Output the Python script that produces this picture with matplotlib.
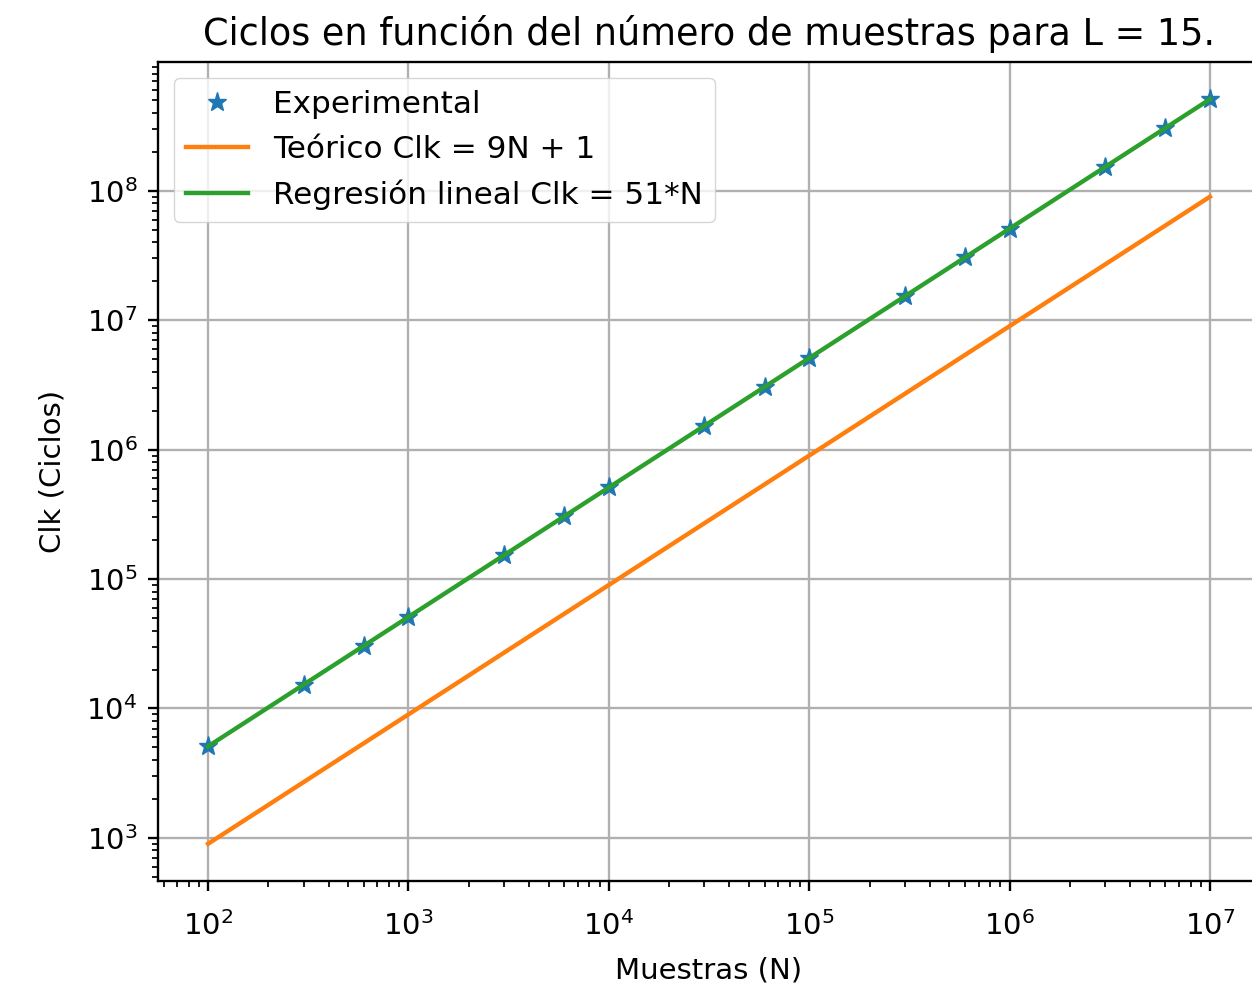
import matplotlib
matplotlib.use("Agg")
import matplotlib.pyplot as plt
from matplotlib.ticker import NullFormatter
import numpy as np

N = [1e2, 3e2, 6e2, 1e3, 3e3, 6e3, 1e4, 3e4, 6e4, 1e5, 3e5, 6e5, 1e6, 3e6, 6e6, 1e7]
clk_exp = [5.1e3, 1.53e4, 3.06e4, 5.1e4, 1.53e5, 3.06e5, 5.1e5, 1.53e6, 3.06e6,
           5.1e6, 1.53e7, 3.06e7, 5.1e7, 1.53e8, 3.06e8, 5.1e8]
theory_a, theory_b = 9, 1
reg_slope = 51

title = "Ciclos en función del número de muestras para L = 15."
xlabel = "Muestras (N)"
ylabel = "Clk (Ciclos)"
labels = ["Experimental", "Teórico Clk = 9N + 1", "Regresión lineal Clk = 51*N"]

s = 2.1
plt.rcParams.update({
    "font.family": "DejaVu Sans",
    "font.size": 10 * s,
    "axes.linewidth": 0.8 * s,
    "xtick.major.size": 3.5 * s, "ytick.major.size": 3.5 * s,
    "xtick.minor.size": 2 * s, "ytick.minor.size": 2 * s,
    "xtick.major.width": 0.8 * s, "ytick.major.width": 0.8 * s,
    "xtick.minor.width": 0.6 * s, "ytick.minor.width": 0.6 * s,
    "xtick.major.pad": 14.5, "ytick.major.pad": 3.5 * s,
    "grid.linewidth": 0.8 * s,
    "lines.linewidth": 1.5 * s,
})

fig = plt.figure(figsize=(12.52, 9.89), dpi=100)
ax = fig.add_axes([0.1262, 0.1092, 0.8802, 0.8281])

Narr = np.array(N)
ax.plot(N, clk_exp, '*', color='C0', markersize=14, label=labels[0])
ax.plot(N, theory_a * Narr + theory_b, color='C1', label=labels[1])
ax.plot(N, reg_slope * Narr, color='C2', label=labels[2])
ax.set_xscale('log')
ax.set_yscale('log')
ax.xaxis.set_minor_formatter(NullFormatter())
ax.yaxis.set_minor_formatter(NullFormatter())
ax.grid(True)
ax.set_title(title, fontsize=26.4, pad=6 * s)
ax.set_xlabel(xlabel, labelpad=3.5 * s + 3.6)
ax.set_ylabel(ylabel, labelpad=4 * s + 6)
ax.legend(loc='upper left', fontsize=22.4)

fig.savefig("out.png", dpi=100)
